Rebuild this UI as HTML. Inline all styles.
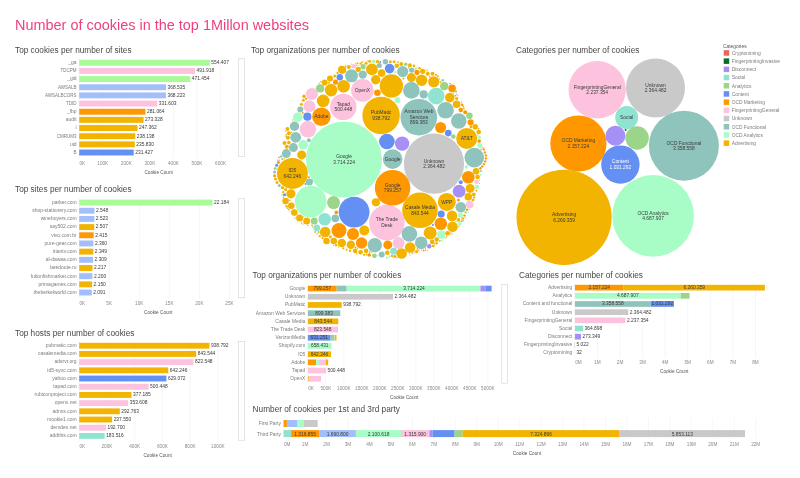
<!DOCTYPE html>
<html><head><meta charset="utf-8"><title>Number of cookies in the top 1Millon websites</title>
<style>html,body{margin:0;padding:0;background:#fff}svg{display:block}text{font-family:"Liberation Sans",sans-serif}</style></head>
<body><svg width="800" height="478" viewBox="0 0 800 478">
<rect width="800" height="478" fill="#fff"/>
<text transform="translate(15.00 29.80) scale(0.964 1)" font-size="15" fill="#ee3f80" text-anchor="start">Number of cookies in the top 1Millon websites</text>
<text transform="translate(15.00 52.90) scale(0.92 1)" font-size="9" fill="#484848" text-anchor="start">Top cookies per number of sites</text>
<line x1="79.2" y1="58" x2="79.2" y2="158" stroke="#f0f0f0" stroke-width="0.6"/>
<line x1="102.8" y1="58" x2="102.8" y2="158" stroke="#f0f0f0" stroke-width="0.6"/>
<line x1="126.3" y1="58" x2="126.3" y2="158" stroke="#f0f0f0" stroke-width="0.6"/>
<line x1="149.9" y1="58" x2="149.9" y2="158" stroke="#f0f0f0" stroke-width="0.6"/>
<line x1="173.4" y1="58" x2="173.4" y2="158" stroke="#f0f0f0" stroke-width="0.6"/>
<line x1="197.0" y1="58" x2="197.0" y2="158" stroke="#f0f0f0" stroke-width="0.6"/>
<line x1="220.6" y1="58" x2="220.6" y2="158" stroke="#f0f0f0" stroke-width="0.6"/>
<text transform="translate(76.60 64.10) scale(0.96 1)" font-size="5.2" fill="#7c7c7c" text-anchor="end">_ga</text>
<rect x="79.20" y="59.80" width="130.62" height="5.90" fill="#a8fb96"/>
<text transform="translate(211.32 64.10) scale(0.94 1)" font-size="5.2" fill="#3a3a3a" text-anchor="start">554.407</text>
<text transform="translate(76.60 72.26) scale(0.87 1)" font-size="5.2" fill="#7c7c7c" text-anchor="end">TDCPM</text>
<rect x="79.20" y="67.96" width="115.90" height="5.90" fill="#fcc2de"/>
<text transform="translate(196.60 72.26) scale(0.94 1)" font-size="5.2" fill="#3a3a3a" text-anchor="start">491.918</text>
<text transform="translate(76.60 80.42) scale(0.96 1)" font-size="5.2" fill="#7c7c7c" text-anchor="end">_gid</text>
<rect x="79.20" y="76.12" width="111.07" height="5.90" fill="#a8fb96"/>
<text transform="translate(191.77 80.42) scale(0.94 1)" font-size="5.2" fill="#3a3a3a" text-anchor="start">471.454</text>
<text transform="translate(76.60 88.58) scale(0.87 1)" font-size="5.2" fill="#7c7c7c" text-anchor="end">AWSALB</text>
<rect x="79.20" y="84.28" width="86.83" height="5.90" fill="#a2bffb"/>
<text transform="translate(167.53 88.58) scale(0.94 1)" font-size="5.2" fill="#3a3a3a" text-anchor="start">368.535</text>
<text transform="translate(76.60 96.74) scale(0.87 1)" font-size="5.2" fill="#7c7c7c" text-anchor="end">AWSALBCORS</text>
<rect x="79.20" y="92.44" width="86.75" height="5.90" fill="#a2bffb"/>
<text transform="translate(167.45 96.74) scale(0.94 1)" font-size="5.2" fill="#3a3a3a" text-anchor="start">368.223</text>
<text transform="translate(76.60 104.90) scale(0.87 1)" font-size="5.2" fill="#7c7c7c" text-anchor="end">TDID</text>
<rect x="79.20" y="100.60" width="78.13" height="5.90" fill="#fcc2de"/>
<text transform="translate(158.83 104.90) scale(0.94 1)" font-size="5.2" fill="#3a3a3a" text-anchor="start">331.603</text>
<text transform="translate(76.60 113.06) scale(0.96 1)" font-size="5.2" fill="#7c7c7c" text-anchor="end">_fbp</text>
<rect x="79.20" y="108.76" width="66.22" height="5.90" fill="#ff9800"/>
<text transform="translate(146.92 113.06) scale(0.94 1)" font-size="5.2" fill="#3a3a3a" text-anchor="start">281.064</text>
<text transform="translate(76.60 121.22) scale(0.96 1)" font-size="5.2" fill="#7c7c7c" text-anchor="end">audit</text>
<rect x="79.20" y="116.92" width="64.40" height="5.90" fill="#f2b400"/>
<text transform="translate(145.10 121.22) scale(0.94 1)" font-size="5.2" fill="#3a3a3a" text-anchor="start">273.328</text>
<text transform="translate(76.60 129.38) scale(0.96 1)" font-size="5.2" fill="#7c7c7c" text-anchor="end">i</text>
<rect x="79.20" y="125.08" width="58.28" height="5.90" fill="#f2b400"/>
<text transform="translate(138.98 129.38) scale(0.94 1)" font-size="5.2" fill="#3a3a3a" text-anchor="start">247.362</text>
<text transform="translate(76.60 137.54) scale(0.87 1)" font-size="5.2" fill="#7c7c7c" text-anchor="end">CMRUM3</text>
<rect x="79.20" y="133.24" width="56.11" height="5.90" fill="#f2b400"/>
<text transform="translate(136.81 137.54) scale(0.94 1)" font-size="5.2" fill="#3a3a3a" text-anchor="start">238.138</text>
<text transform="translate(76.60 145.70) scale(0.96 1)" font-size="5.2" fill="#7c7c7c" text-anchor="end">uid</text>
<rect x="79.20" y="141.40" width="55.56" height="5.90" fill="#f2b400"/>
<text transform="translate(136.26 145.70) scale(0.94 1)" font-size="5.2" fill="#3a3a3a" text-anchor="start">235.830</text>
<text transform="translate(76.60 153.86) scale(0.87 1)" font-size="5.2" fill="#7c7c7c" text-anchor="end">B</text>
<rect x="79.20" y="149.56" width="54.52" height="5.90" fill="#6390f2"/>
<text transform="translate(135.22 153.86) scale(0.94 1)" font-size="5.2" fill="#3a3a3a" text-anchor="start">231.427</text>
<text transform="translate(79.50 164.60) scale(0.94 1)" font-size="5.0" fill="#8a8a8a" text-anchor="start">0K</text>
<text transform="translate(102.76 164.60) scale(0.94 1)" font-size="5.0" fill="#8a8a8a" text-anchor="middle">100K</text>
<text transform="translate(126.32 164.60) scale(0.94 1)" font-size="5.0" fill="#8a8a8a" text-anchor="middle">200K</text>
<text transform="translate(149.88 164.60) scale(0.94 1)" font-size="5.0" fill="#8a8a8a" text-anchor="middle">300K</text>
<text transform="translate(173.44 164.60) scale(0.94 1)" font-size="5.0" fill="#8a8a8a" text-anchor="middle">400K</text>
<text transform="translate(197.00 164.60) scale(0.94 1)" font-size="5.0" fill="#8a8a8a" text-anchor="middle">500K</text>
<text transform="translate(220.56 164.60) scale(0.94 1)" font-size="5.0" fill="#8a8a8a" text-anchor="middle">600K</text>
<text transform="translate(158.60 173.60) scale(0.94 1)" font-size="5.0" fill="#555" text-anchor="middle">Cookie Count</text>
<rect x="238.3" y="58.8" width="6.4" height="97.8" fill="#fff" stroke="#d2d2d2" stroke-width="0.6"/>
<text transform="translate(15.00 192.30) scale(0.92 1)" font-size="9" fill="#484848" text-anchor="start">Top sites per number of cookies</text>
<line x1="79.2" y1="198" x2="79.2" y2="299" stroke="#f0f0f0" stroke-width="0.6"/>
<line x1="109.2" y1="198" x2="109.2" y2="299" stroke="#f0f0f0" stroke-width="0.6"/>
<line x1="139.3" y1="198" x2="139.3" y2="299" stroke="#f0f0f0" stroke-width="0.6"/>
<line x1="169.3" y1="198" x2="169.3" y2="299" stroke="#f0f0f0" stroke-width="0.6"/>
<line x1="199.4" y1="198" x2="199.4" y2="299" stroke="#f0f0f0" stroke-width="0.6"/>
<line x1="229.4" y1="198" x2="229.4" y2="299" stroke="#f0f0f0" stroke-width="0.6"/>
<text transform="translate(76.60 203.90) scale(0.96 1)" font-size="5.2" fill="#7c7c7c" text-anchor="end">parker.com</text>
<rect x="79.20" y="199.60" width="133.33" height="5.90" fill="#a8fb96"/>
<text transform="translate(214.03 203.90) scale(0.94 1)" font-size="5.2" fill="#3a3a3a" text-anchor="start">22.184</text>
<text transform="translate(76.60 212.08) scale(0.96 1)" font-size="5.2" fill="#7c7c7c" text-anchor="end">shop-stationery.com</text>
<rect x="79.20" y="207.78" width="15.31" height="5.90" fill="#a2bffb"/>
<text transform="translate(96.01 212.08) scale(0.94 1)" font-size="5.2" fill="#3a3a3a" text-anchor="start">2.548</text>
<text transform="translate(76.60 220.26) scale(0.96 1)" font-size="5.2" fill="#7c7c7c" text-anchor="end">winebuyers.com</text>
<rect x="79.20" y="215.96" width="15.16" height="5.90" fill="#a2bffb"/>
<text transform="translate(95.86 220.26) scale(0.94 1)" font-size="5.2" fill="#3a3a3a" text-anchor="start">2.523</text>
<text transform="translate(76.60 228.44) scale(0.96 1)" font-size="5.2" fill="#7c7c7c" text-anchor="end">say502.com</text>
<rect x="79.20" y="224.14" width="15.07" height="5.90" fill="#f2b400"/>
<text transform="translate(95.77 228.44) scale(0.94 1)" font-size="5.2" fill="#3a3a3a" text-anchor="start">2.507</text>
<text transform="translate(76.60 236.62) scale(0.96 1)" font-size="5.2" fill="#7c7c7c" text-anchor="end">vivo.com.br</text>
<rect x="79.20" y="232.32" width="14.51" height="5.90" fill="#ff9800"/>
<text transform="translate(95.21 236.62) scale(0.94 1)" font-size="5.2" fill="#3a3a3a" text-anchor="start">2.415</text>
<text transform="translate(76.60 244.80) scale(0.96 1)" font-size="5.2" fill="#7c7c7c" text-anchor="end">pure-gear.com</text>
<rect x="79.20" y="240.50" width="14.18" height="5.90" fill="#a2bffb"/>
<text transform="translate(94.88 244.80) scale(0.94 1)" font-size="5.2" fill="#3a3a3a" text-anchor="start">2.360</text>
<text transform="translate(76.60 252.98) scale(0.96 1)" font-size="5.2" fill="#7c7c7c" text-anchor="end">titantv.com</text>
<rect x="79.20" y="248.68" width="14.12" height="5.90" fill="#f2b400"/>
<text transform="translate(94.82 252.98) scale(0.94 1)" font-size="5.2" fill="#3a3a3a" text-anchor="start">2.349</text>
<text transform="translate(76.60 261.16) scale(0.96 1)" font-size="5.2" fill="#7c7c7c" text-anchor="end">al-dawaa.com</text>
<rect x="79.20" y="256.86" width="13.88" height="5.90" fill="#a2bffb"/>
<text transform="translate(94.58 261.16) scale(0.94 1)" font-size="5.2" fill="#3a3a3a" text-anchor="start">2.309</text>
<text transform="translate(76.60 269.34) scale(0.96 1)" font-size="5.2" fill="#7c7c7c" text-anchor="end">laredoute.ru</text>
<rect x="79.20" y="265.04" width="13.32" height="5.90" fill="#f2b400"/>
<text transform="translate(94.02 269.34) scale(0.94 1)" font-size="5.2" fill="#3a3a3a" text-anchor="start">2.217</text>
<text transform="translate(76.60 277.52) scale(0.96 1)" font-size="5.2" fill="#7c7c7c" text-anchor="end">fultonfishmarket.com</text>
<rect x="79.20" y="273.22" width="13.22" height="5.90" fill="#a2bffb"/>
<text transform="translate(93.92 277.52) scale(0.94 1)" font-size="5.2" fill="#3a3a3a" text-anchor="start">2.200</text>
<text transform="translate(76.60 285.70) scale(0.96 1)" font-size="5.2" fill="#7c7c7c" text-anchor="end">primagames.com</text>
<rect x="79.20" y="281.40" width="12.92" height="5.90" fill="#f2b400"/>
<text transform="translate(93.62 285.70) scale(0.94 1)" font-size="5.2" fill="#3a3a3a" text-anchor="start">2.150</text>
<text transform="translate(76.60 293.88) scale(0.96 1)" font-size="5.2" fill="#7c7c7c" text-anchor="end">theberkelworld.com</text>
<rect x="79.20" y="289.58" width="12.57" height="5.90" fill="#a2bffb"/>
<text transform="translate(93.27 293.88) scale(0.94 1)" font-size="5.2" fill="#3a3a3a" text-anchor="start">2.091</text>
<text transform="translate(79.50 304.60) scale(0.94 1)" font-size="5.0" fill="#8a8a8a" text-anchor="start">0K</text>
<text transform="translate(109.25 304.60) scale(0.94 1)" font-size="5.0" fill="#8a8a8a" text-anchor="middle">5K</text>
<text transform="translate(139.30 304.60) scale(0.94 1)" font-size="5.0" fill="#8a8a8a" text-anchor="middle">10K</text>
<text transform="translate(169.35 304.60) scale(0.94 1)" font-size="5.0" fill="#8a8a8a" text-anchor="middle">15K</text>
<text transform="translate(199.40 304.60) scale(0.94 1)" font-size="5.0" fill="#8a8a8a" text-anchor="middle">20K</text>
<text transform="translate(229.45 304.60) scale(0.94 1)" font-size="5.0" fill="#8a8a8a" text-anchor="middle">25K</text>
<text transform="translate(158.30 314.00) scale(0.94 1)" font-size="5.0" fill="#555" text-anchor="middle">Cookie Count</text>
<rect x="238.3" y="198.8" width="6.4" height="99" fill="#fff" stroke="#d2d2d2" stroke-width="0.6"/>
<text transform="translate(15.00 335.60) scale(0.92 1)" font-size="9" fill="#484848" text-anchor="start">Top hosts per number of cookies</text>
<line x1="79.2" y1="341" x2="79.2" y2="442" stroke="#f0f0f0" stroke-width="0.6"/>
<line x1="106.9" y1="341" x2="106.9" y2="442" stroke="#f0f0f0" stroke-width="0.6"/>
<line x1="134.7" y1="341" x2="134.7" y2="442" stroke="#f0f0f0" stroke-width="0.6"/>
<line x1="162.4" y1="341" x2="162.4" y2="442" stroke="#f0f0f0" stroke-width="0.6"/>
<line x1="190.2" y1="341" x2="190.2" y2="442" stroke="#f0f0f0" stroke-width="0.6"/>
<line x1="217.9" y1="341" x2="217.9" y2="442" stroke="#f0f0f0" stroke-width="0.6"/>
<text transform="translate(76.60 347.08) scale(0.96 1)" font-size="5.2" fill="#7c7c7c" text-anchor="end">pubmatic.com</text>
<rect x="79.20" y="342.80" width="130.21" height="5.85" fill="#f2b400"/>
<text transform="translate(210.91 347.08) scale(0.94 1)" font-size="5.2" fill="#3a3a3a" text-anchor="start">938.792</text>
<text transform="translate(76.60 355.28) scale(0.96 1)" font-size="5.2" fill="#7c7c7c" text-anchor="end">casalemedia.com</text>
<rect x="79.20" y="351.00" width="117.00" height="5.85" fill="#f2b400"/>
<text transform="translate(197.70 355.28) scale(0.94 1)" font-size="5.2" fill="#3a3a3a" text-anchor="start">843.544</text>
<text transform="translate(76.60 363.48) scale(0.96 1)" font-size="5.2" fill="#7c7c7c" text-anchor="end">adsrvr.org</text>
<rect x="79.20" y="359.20" width="114.23" height="5.85" fill="#fcc2de"/>
<text transform="translate(194.93 363.48) scale(0.94 1)" font-size="5.2" fill="#3a3a3a" text-anchor="start">823.548</text>
<text transform="translate(76.60 371.68) scale(0.96 1)" font-size="5.2" fill="#7c7c7c" text-anchor="end">id5-sync.com</text>
<rect x="79.20" y="367.40" width="89.08" height="5.85" fill="#f2b400"/>
<text transform="translate(169.78 371.68) scale(0.94 1)" font-size="5.2" fill="#3a3a3a" text-anchor="start">642.246</text>
<text transform="translate(76.60 379.88) scale(0.96 1)" font-size="5.2" fill="#7c7c7c" text-anchor="end">yahoo.com</text>
<rect x="79.20" y="375.60" width="87.25" height="5.85" fill="#6390f2"/>
<text transform="translate(167.95 379.88) scale(0.94 1)" font-size="5.2" fill="#3a3a3a" text-anchor="start">629.072</text>
<text transform="translate(76.60 388.08) scale(0.96 1)" font-size="5.2" fill="#7c7c7c" text-anchor="end">tapad.com</text>
<rect x="79.20" y="383.80" width="69.41" height="5.85" fill="#fcc2de"/>
<text transform="translate(150.11 388.08) scale(0.94 1)" font-size="5.2" fill="#3a3a3a" text-anchor="start">500.448</text>
<text transform="translate(76.60 396.28) scale(0.96 1)" font-size="5.2" fill="#7c7c7c" text-anchor="end">rubiconproject.com</text>
<rect x="79.20" y="392.00" width="52.32" height="5.85" fill="#f2b400"/>
<text transform="translate(133.02 396.28) scale(0.94 1)" font-size="5.2" fill="#3a3a3a" text-anchor="start">377.185</text>
<text transform="translate(76.60 404.48) scale(0.96 1)" font-size="5.2" fill="#7c7c7c" text-anchor="end">openx.net</text>
<rect x="79.20" y="400.20" width="49.05" height="5.85" fill="#fcc2de"/>
<text transform="translate(129.75 404.48) scale(0.94 1)" font-size="5.2" fill="#3a3a3a" text-anchor="start">353.608</text>
<text transform="translate(76.60 412.68) scale(0.96 1)" font-size="5.2" fill="#7c7c7c" text-anchor="end">adnxs.com</text>
<rect x="79.20" y="408.40" width="40.61" height="5.85" fill="#f2b400"/>
<text transform="translate(121.31 412.68) scale(0.94 1)" font-size="5.2" fill="#3a3a3a" text-anchor="start">292.763</text>
<text transform="translate(76.60 420.88) scale(0.96 1)" font-size="5.2" fill="#7c7c7c" text-anchor="end">mookie1.com</text>
<rect x="79.20" y="416.60" width="32.95" height="5.85" fill="#f2b400"/>
<text transform="translate(113.65 420.88) scale(0.94 1)" font-size="5.2" fill="#3a3a3a" text-anchor="start">237.550</text>
<text transform="translate(76.60 429.08) scale(0.96 1)" font-size="5.2" fill="#7c7c7c" text-anchor="end">demdex.net</text>
<rect x="79.20" y="424.80" width="26.73" height="5.85" fill="#fcc2de"/>
<text transform="translate(107.43 429.08) scale(0.94 1)" font-size="5.2" fill="#3a3a3a" text-anchor="start">192.700</text>
<text transform="translate(76.60 437.28) scale(0.96 1)" font-size="5.2" fill="#7c7c7c" text-anchor="end">addthis.com</text>
<rect x="79.20" y="433.00" width="25.45" height="5.85" fill="#8fe4d1"/>
<text transform="translate(106.15 437.28) scale(0.94 1)" font-size="5.2" fill="#3a3a3a" text-anchor="start">183.516</text>
<text transform="translate(79.50 447.60) scale(0.94 1)" font-size="5.0" fill="#8a8a8a" text-anchor="start">0K</text>
<text transform="translate(106.94 447.60) scale(0.94 1)" font-size="5.0" fill="#8a8a8a" text-anchor="middle">200K</text>
<text transform="translate(134.68 447.60) scale(0.94 1)" font-size="5.0" fill="#8a8a8a" text-anchor="middle">400K</text>
<text transform="translate(162.42 447.60) scale(0.94 1)" font-size="5.0" fill="#8a8a8a" text-anchor="middle">600K</text>
<text transform="translate(190.16 447.60) scale(0.94 1)" font-size="5.0" fill="#8a8a8a" text-anchor="middle">800K</text>
<text transform="translate(217.90 447.60) scale(0.94 1)" font-size="5.0" fill="#8a8a8a" text-anchor="middle">1000K</text>
<text transform="translate(157.60 457.00) scale(0.94 1)" font-size="5.0" fill="#555" text-anchor="middle">Cookie Count</text>
<rect x="238.3" y="341.4" width="6.4" height="98.8" fill="#fff" stroke="#d2d2d2" stroke-width="0.6"/>
<text transform="translate(252.60 278.40) scale(0.92 1)" font-size="9" fill="#484848" text-anchor="start">Top organizations per number of cookies</text>
<line x1="307.9" y1="284" x2="307.9" y2="384" stroke="#f0f0f0" stroke-width="0.6"/>
<line x1="325.9" y1="284" x2="325.9" y2="384" stroke="#f0f0f0" stroke-width="0.6"/>
<line x1="343.9" y1="284" x2="343.9" y2="384" stroke="#f0f0f0" stroke-width="0.6"/>
<line x1="361.9" y1="284" x2="361.9" y2="384" stroke="#f0f0f0" stroke-width="0.6"/>
<line x1="379.9" y1="284" x2="379.9" y2="384" stroke="#f0f0f0" stroke-width="0.6"/>
<line x1="397.9" y1="284" x2="397.9" y2="384" stroke="#f0f0f0" stroke-width="0.6"/>
<line x1="415.9" y1="284" x2="415.9" y2="384" stroke="#f0f0f0" stroke-width="0.6"/>
<line x1="433.9" y1="284" x2="433.9" y2="384" stroke="#f0f0f0" stroke-width="0.6"/>
<line x1="451.9" y1="284" x2="451.9" y2="384" stroke="#f0f0f0" stroke-width="0.6"/>
<line x1="469.9" y1="284" x2="469.9" y2="384" stroke="#f0f0f0" stroke-width="0.6"/>
<line x1="487.9" y1="284" x2="487.9" y2="384" stroke="#f0f0f0" stroke-width="0.6"/>
<text transform="translate(305.30 289.90) scale(0.945 1)" font-size="5.2" fill="#7c7c7c" text-anchor="end">Google</text>
<rect x="307.90" y="285.70" width="28.77" height="5.70" fill="#ff9800"/>
<rect x="336.67" y="285.70" width="10.04" height="5.70" fill="#8fc4bd"/>
<rect x="346.72" y="285.70" width="133.71" height="5.70" fill="#a7fdc5"/>
<rect x="480.43" y="285.70" width="5.40" height="5.70" fill="#a78ff8"/>
<rect x="485.83" y="285.70" width="5.76" height="5.70" fill="#6390f2"/>
<text transform="translate(322.29 289.90) scale(0.94 1)" font-size="5.2" fill="#3a3a3a" text-anchor="middle">799.257</text>
<text transform="translate(413.97 289.90) scale(0.94 1)" font-size="5.2" fill="#3a3a3a" text-anchor="middle">3.714.224</text>
<text transform="translate(305.30 298.10) scale(0.9471428571428571 1)" font-size="5.2" fill="#7c7c7c" text-anchor="end">Unknown</text>
<rect x="307.90" y="293.90" width="85.12" height="5.70" fill="#c9c9c9"/>
<text transform="translate(394.52 298.10) scale(0.94 1)" font-size="5.2" fill="#3a3a3a" text-anchor="start">2.364.482</text>
<text transform="translate(305.30 306.30) scale(0.9375 1)" font-size="5.2" fill="#7c7c7c" text-anchor="end">PubMatic</text>
<rect x="307.90" y="302.10" width="33.80" height="5.70" fill="#f2b400"/>
<text transform="translate(343.20 306.30) scale(0.94 1)" font-size="5.2" fill="#3a3a3a" text-anchor="start">938.792</text>
<text transform="translate(305.30 314.50) scale(0.9441176470588235 1)" font-size="5.2" fill="#7c7c7c" text-anchor="end">Amazon Web Services</text>
<rect x="307.90" y="310.30" width="32.38" height="5.70" fill="#8fc4bd"/>
<text transform="translate(324.09 314.50) scale(0.94 1)" font-size="5.2" fill="#3a3a3a" text-anchor="middle">899.383</text>
<text transform="translate(305.30 322.70) scale(0.9436363636363636 1)" font-size="5.2" fill="#7c7c7c" text-anchor="end">Casale Media</text>
<rect x="307.90" y="318.50" width="30.37" height="5.70" fill="#f2b400"/>
<text transform="translate(323.08 322.70) scale(0.94 1)" font-size="5.2" fill="#3a3a3a" text-anchor="middle">843.544</text>
<text transform="translate(305.30 330.90) scale(0.9375 1)" font-size="5.2" fill="#7c7c7c" text-anchor="end">The Trade Desk</text>
<rect x="307.90" y="326.70" width="29.65" height="5.70" fill="#fcc2de"/>
<rect x="337.55" y="326.70" width="0.43" height="5.70" fill="#f2b400"/>
<text transform="translate(322.72 330.90) scale(0.94 1)" font-size="5.2" fill="#3a3a3a" text-anchor="middle">823.548</text>
<text transform="translate(305.30 339.10) scale(0.945 1)" font-size="5.2" fill="#7c7c7c" text-anchor="end">VerizonMedia</text>
<rect x="307.90" y="334.90" width="22.73" height="5.70" fill="#6390f2"/>
<rect x="330.63" y="334.90" width="4.00" height="5.70" fill="#9bd58a"/>
<rect x="334.62" y="334.90" width="0.43" height="5.70" fill="#fcc2de"/>
<rect x="335.05" y="334.90" width="1.44" height="5.70" fill="#f2b400"/>
<text transform="translate(319.26 339.10) scale(0.94 1)" font-size="5.2" fill="#3a3a3a" text-anchor="middle">631.251</text>
<text transform="translate(305.30 347.30) scale(0.951 1)" font-size="5.2" fill="#7c7c7c" text-anchor="end">Shopify.com</text>
<rect x="307.90" y="343.10" width="23.70" height="5.70" fill="#a7fdc5"/>
<text transform="translate(319.75 347.30) scale(0.94 1)" font-size="5.2" fill="#3a3a3a" text-anchor="middle">658.431</text>
<text transform="translate(305.30 355.50) scale(0.87 1)" font-size="5.2" fill="#7c7c7c" text-anchor="end">ID5</text>
<rect x="307.90" y="351.30" width="23.12" height="5.70" fill="#f2b400"/>
<text transform="translate(319.46 355.50) scale(0.94 1)" font-size="5.2" fill="#3a3a3a" text-anchor="middle">642.246</text>
<text transform="translate(305.30 363.70) scale(0.942 1)" font-size="5.2" fill="#7c7c7c" text-anchor="end">Adobe</text>
<rect x="307.90" y="359.50" width="8.17" height="5.70" fill="#ff9800"/>
<rect x="316.07" y="359.50" width="2.77" height="5.70" fill="#a7fdc5"/>
<rect x="318.84" y="359.50" width="7.16" height="5.70" fill="#fcc2de"/>
<rect x="326.01" y="359.50" width="2.12" height="5.70" fill="#f2b400"/>
<text transform="translate(305.30 371.90) scale(0.942 1)" font-size="5.2" fill="#7c7c7c" text-anchor="end">Tapad</text>
<rect x="307.90" y="367.70" width="18.02" height="5.70" fill="#fcc2de"/>
<text transform="translate(327.42 371.90) scale(0.94 1)" font-size="5.2" fill="#3a3a3a" text-anchor="start">500.448</text>
<text transform="translate(305.30 380.10) scale(0.9239999999999999 1)" font-size="5.2" fill="#7c7c7c" text-anchor="end">OpenX</text>
<rect x="307.90" y="375.90" width="0.90" height="5.70" fill="#f2b400"/>
<rect x="308.80" y="375.90" width="12.31" height="5.70" fill="#fcc2de"/>
<text transform="translate(308.20 389.90) scale(0.94 1)" font-size="5.0" fill="#8a8a8a" text-anchor="start">0K</text>
<text transform="translate(325.90 389.90) scale(0.94 1)" font-size="5.0" fill="#8a8a8a" text-anchor="middle">500K</text>
<text transform="translate(343.90 389.90) scale(0.94 1)" font-size="5.0" fill="#8a8a8a" text-anchor="middle">1000K</text>
<text transform="translate(361.90 389.90) scale(0.94 1)" font-size="5.0" fill="#8a8a8a" text-anchor="middle">1500K</text>
<text transform="translate(379.90 389.90) scale(0.94 1)" font-size="5.0" fill="#8a8a8a" text-anchor="middle">2000K</text>
<text transform="translate(397.90 389.90) scale(0.94 1)" font-size="5.0" fill="#8a8a8a" text-anchor="middle">2500K</text>
<text transform="translate(415.90 389.90) scale(0.94 1)" font-size="5.0" fill="#8a8a8a" text-anchor="middle">3000K</text>
<text transform="translate(433.90 389.90) scale(0.94 1)" font-size="5.0" fill="#8a8a8a" text-anchor="middle">3500K</text>
<text transform="translate(451.90 389.90) scale(0.94 1)" font-size="5.0" fill="#8a8a8a" text-anchor="middle">4000K</text>
<text transform="translate(469.90 389.90) scale(0.94 1)" font-size="5.0" fill="#8a8a8a" text-anchor="middle">4500K</text>
<text transform="translate(487.90 389.90) scale(0.94 1)" font-size="5.0" fill="#8a8a8a" text-anchor="middle">5000K</text>
<text transform="translate(404.20 398.70) scale(0.94 1)" font-size="5.0" fill="#555" text-anchor="middle">Cookie Count</text>
<rect x="501.8" y="284.5" width="5.6" height="98.7" fill="#fff" stroke="#d2d2d2" stroke-width="0.6"/>
<text transform="translate(519.00 278.00) scale(0.92 1)" font-size="9" fill="#484848" text-anchor="start">Categories per number of cookies</text>
<line x1="574.9" y1="284" x2="574.9" y2="358" stroke="#f0f0f0" stroke-width="0.6"/>
<line x1="597.5" y1="284" x2="597.5" y2="358" stroke="#f0f0f0" stroke-width="0.6"/>
<line x1="620.0" y1="284" x2="620.0" y2="358" stroke="#f0f0f0" stroke-width="0.6"/>
<line x1="642.6" y1="284" x2="642.6" y2="358" stroke="#f0f0f0" stroke-width="0.6"/>
<line x1="665.2" y1="284" x2="665.2" y2="358" stroke="#f0f0f0" stroke-width="0.6"/>
<line x1="687.8" y1="284" x2="687.8" y2="358" stroke="#f0f0f0" stroke-width="0.6"/>
<line x1="710.3" y1="284" x2="710.3" y2="358" stroke="#f0f0f0" stroke-width="0.6"/>
<line x1="732.9" y1="284" x2="732.9" y2="358" stroke="#f0f0f0" stroke-width="0.6"/>
<line x1="755.5" y1="284" x2="755.5" y2="358" stroke="#f0f0f0" stroke-width="0.6"/>
<text transform="translate(572.30 289.00) scale(0.9518181818181818 1)" font-size="5.2" fill="#7c7c7c" text-anchor="end">Advertising</text>
<rect x="574.90" y="284.80" width="48.69" height="5.70" fill="#ff9800"/>
<rect x="623.59" y="284.80" width="141.30" height="5.70" fill="#f2b400"/>
<text transform="translate(599.24 289.00) scale(0.94 1)" font-size="5.2" fill="#3a3a3a" text-anchor="middle">2.157.224</text>
<text transform="translate(694.24 289.00) scale(0.94 1)" font-size="5.2" fill="#3a3a3a" text-anchor="middle">6.260.359</text>
<text transform="translate(572.30 297.17) scale(0.95 1)" font-size="5.2" fill="#7c7c7c" text-anchor="end">Analytics</text>
<rect x="574.90" y="292.97" width="105.81" height="5.70" fill="#a7fdc5"/>
<rect x="680.71" y="292.97" width="8.80" height="5.70" fill="#9bd58a"/>
<text transform="translate(627.80 297.17) scale(0.94 1)" font-size="5.2" fill="#3a3a3a" text-anchor="middle">4.687.907</text>
<text transform="translate(572.30 305.34) scale(0.9555 1)" font-size="5.2" fill="#7c7c7c" text-anchor="end">Content and functional</text>
<rect x="574.90" y="301.14" width="75.80" height="5.70" fill="#8fc4bd"/>
<rect x="650.70" y="301.14" width="23.28" height="5.70" fill="#6390f2"/>
<text transform="translate(612.80 305.34) scale(0.94 1)" font-size="5.2" fill="#3a3a3a" text-anchor="middle">3.358.558</text>
<text transform="translate(662.34 305.34) scale(0.94 1)" font-size="5.2" fill="#3a3a3a" text-anchor="middle">1.031.292</text>
<text transform="translate(572.30 313.51) scale(0.9471428571428571 1)" font-size="5.2" fill="#7c7c7c" text-anchor="end">Unknown</text>
<rect x="574.90" y="309.31" width="53.37" height="5.70" fill="#c9c9c9"/>
<text transform="translate(629.77 313.51) scale(0.94 1)" font-size="5.2" fill="#3a3a3a" text-anchor="start">2.364.482</text>
<text transform="translate(572.30 321.68) scale(0.9514285714285714 1)" font-size="5.2" fill="#7c7c7c" text-anchor="end">FingerprintingGeneral</text>
<rect x="574.90" y="317.48" width="50.50" height="5.70" fill="#fcc2de"/>
<text transform="translate(626.90 321.68) scale(0.94 1)" font-size="5.2" fill="#3a3a3a" text-anchor="start">2.237.354</text>
<text transform="translate(572.30 329.85) scale(0.945 1)" font-size="5.2" fill="#7c7c7c" text-anchor="end">Social</text>
<rect x="574.90" y="325.65" width="8.24" height="5.70" fill="#8fe4d1"/>
<text transform="translate(584.64 329.85) scale(0.94 1)" font-size="5.2" fill="#3a3a3a" text-anchor="start">364.898</text>
<text transform="translate(572.30 338.02) scale(0.951 1)" font-size="5.2" fill="#7c7c7c" text-anchor="end">Disconnect</text>
<rect x="574.90" y="333.82" width="6.17" height="5.70" fill="#a78ff8"/>
<text transform="translate(582.57 338.02) scale(0.94 1)" font-size="5.2" fill="#3a3a3a" text-anchor="start">273.349</text>
<text transform="translate(572.30 346.19) scale(0.9518181818181818 1)" font-size="5.2" fill="#7c7c7c" text-anchor="end">FingerprintingInvasive</text>
<rect x="574.90" y="341.99" width="0.11" height="5.70" fill="#0b6b2c"/>
<text transform="translate(576.51 346.19) scale(0.94 1)" font-size="5.2" fill="#3a3a3a" text-anchor="start">5.022</text>
<text transform="translate(572.30 354.36) scale(0.9525 1)" font-size="5.2" fill="#7c7c7c" text-anchor="end">Cryptomining</text>
<rect x="574.90" y="350.16" width="0.00" height="5.70" fill="#ea645a"/>
<text transform="translate(576.40 354.36) scale(0.94 1)" font-size="5.2" fill="#3a3a3a" text-anchor="start">32</text>
<text transform="translate(575.20 364.40) scale(0.94 1)" font-size="5.0" fill="#8a8a8a" text-anchor="start">0M</text>
<text transform="translate(597.47 364.40) scale(0.94 1)" font-size="5.0" fill="#8a8a8a" text-anchor="middle">1M</text>
<text transform="translate(620.04 364.40) scale(0.94 1)" font-size="5.0" fill="#8a8a8a" text-anchor="middle">2M</text>
<text transform="translate(642.61 364.40) scale(0.94 1)" font-size="5.0" fill="#8a8a8a" text-anchor="middle">3M</text>
<text transform="translate(665.18 364.40) scale(0.94 1)" font-size="5.0" fill="#8a8a8a" text-anchor="middle">4M</text>
<text transform="translate(687.75 364.40) scale(0.94 1)" font-size="5.0" fill="#8a8a8a" text-anchor="middle">5M</text>
<text transform="translate(710.32 364.40) scale(0.94 1)" font-size="5.0" fill="#8a8a8a" text-anchor="middle">6M</text>
<text transform="translate(732.89 364.40) scale(0.94 1)" font-size="5.0" fill="#8a8a8a" text-anchor="middle">7M</text>
<text transform="translate(755.46 364.40) scale(0.94 1)" font-size="5.0" fill="#8a8a8a" text-anchor="middle">8M</text>
<text transform="translate(674.20 373.40) scale(0.94 1)" font-size="5.0" fill="#555" text-anchor="middle">Cookie Count</text>
<text transform="translate(252.60 412.30) scale(0.92 1)" font-size="9" fill="#484848" text-anchor="start">Number of cookies per 1st and 3rd party</text>
<line x1="283.6" y1="418" x2="283.6" y2="439" stroke="#f0f0f0" stroke-width="0.6"/>
<text transform="translate(283.90 445.90) scale(0.94 1)" font-size="5.0" fill="#8a8a8a" text-anchor="start">0M</text>
<line x1="305.1" y1="418" x2="305.1" y2="439" stroke="#f0f0f0" stroke-width="0.6"/>
<text transform="translate(305.06 445.90) scale(0.94 1)" font-size="5.0" fill="#8a8a8a" text-anchor="middle">1M</text>
<line x1="326.5" y1="418" x2="326.5" y2="439" stroke="#f0f0f0" stroke-width="0.6"/>
<text transform="translate(326.52 445.90) scale(0.94 1)" font-size="5.0" fill="#8a8a8a" text-anchor="middle">2M</text>
<line x1="348.0" y1="418" x2="348.0" y2="439" stroke="#f0f0f0" stroke-width="0.6"/>
<text transform="translate(347.98 445.90) scale(0.94 1)" font-size="5.0" fill="#8a8a8a" text-anchor="middle">3M</text>
<line x1="369.4" y1="418" x2="369.4" y2="439" stroke="#f0f0f0" stroke-width="0.6"/>
<text transform="translate(369.44 445.90) scale(0.94 1)" font-size="5.0" fill="#8a8a8a" text-anchor="middle">4M</text>
<line x1="390.9" y1="418" x2="390.9" y2="439" stroke="#f0f0f0" stroke-width="0.6"/>
<text transform="translate(390.90 445.90) scale(0.94 1)" font-size="5.0" fill="#8a8a8a" text-anchor="middle">5M</text>
<line x1="412.4" y1="418" x2="412.4" y2="439" stroke="#f0f0f0" stroke-width="0.6"/>
<text transform="translate(412.36 445.90) scale(0.94 1)" font-size="5.0" fill="#8a8a8a" text-anchor="middle">6M</text>
<line x1="433.8" y1="418" x2="433.8" y2="439" stroke="#f0f0f0" stroke-width="0.6"/>
<text transform="translate(433.82 445.90) scale(0.94 1)" font-size="5.0" fill="#8a8a8a" text-anchor="middle">7M</text>
<line x1="455.3" y1="418" x2="455.3" y2="439" stroke="#f0f0f0" stroke-width="0.6"/>
<text transform="translate(455.28 445.90) scale(0.94 1)" font-size="5.0" fill="#8a8a8a" text-anchor="middle">8M</text>
<line x1="476.7" y1="418" x2="476.7" y2="439" stroke="#f0f0f0" stroke-width="0.6"/>
<text transform="translate(476.74 445.90) scale(0.94 1)" font-size="5.0" fill="#8a8a8a" text-anchor="middle">9M</text>
<line x1="498.2" y1="418" x2="498.2" y2="439" stroke="#f0f0f0" stroke-width="0.6"/>
<text transform="translate(498.20 445.90) scale(0.94 1)" font-size="5.0" fill="#8a8a8a" text-anchor="middle">10M</text>
<line x1="519.7" y1="418" x2="519.7" y2="439" stroke="#f0f0f0" stroke-width="0.6"/>
<text transform="translate(519.66 445.90) scale(0.94 1)" font-size="5.0" fill="#8a8a8a" text-anchor="middle">11M</text>
<line x1="541.1" y1="418" x2="541.1" y2="439" stroke="#f0f0f0" stroke-width="0.6"/>
<text transform="translate(541.12 445.90) scale(0.94 1)" font-size="5.0" fill="#8a8a8a" text-anchor="middle">12M</text>
<line x1="562.6" y1="418" x2="562.6" y2="439" stroke="#f0f0f0" stroke-width="0.6"/>
<text transform="translate(562.58 445.90) scale(0.94 1)" font-size="5.0" fill="#8a8a8a" text-anchor="middle">13M</text>
<line x1="584.0" y1="418" x2="584.0" y2="439" stroke="#f0f0f0" stroke-width="0.6"/>
<text transform="translate(584.04 445.90) scale(0.94 1)" font-size="5.0" fill="#8a8a8a" text-anchor="middle">14M</text>
<line x1="605.5" y1="418" x2="605.5" y2="439" stroke="#f0f0f0" stroke-width="0.6"/>
<text transform="translate(605.50 445.90) scale(0.94 1)" font-size="5.0" fill="#8a8a8a" text-anchor="middle">15M</text>
<line x1="627.0" y1="418" x2="627.0" y2="439" stroke="#f0f0f0" stroke-width="0.6"/>
<text transform="translate(626.96 445.90) scale(0.94 1)" font-size="5.0" fill="#8a8a8a" text-anchor="middle">16M</text>
<line x1="648.4" y1="418" x2="648.4" y2="439" stroke="#f0f0f0" stroke-width="0.6"/>
<text transform="translate(648.42 445.90) scale(0.94 1)" font-size="5.0" fill="#8a8a8a" text-anchor="middle">17M</text>
<line x1="669.9" y1="418" x2="669.9" y2="439" stroke="#f0f0f0" stroke-width="0.6"/>
<text transform="translate(669.88 445.90) scale(0.94 1)" font-size="5.0" fill="#8a8a8a" text-anchor="middle">18M</text>
<line x1="691.3" y1="418" x2="691.3" y2="439" stroke="#f0f0f0" stroke-width="0.6"/>
<text transform="translate(691.34 445.90) scale(0.94 1)" font-size="5.0" fill="#8a8a8a" text-anchor="middle">19M</text>
<line x1="712.8" y1="418" x2="712.8" y2="439" stroke="#f0f0f0" stroke-width="0.6"/>
<text transform="translate(712.80 445.90) scale(0.94 1)" font-size="5.0" fill="#8a8a8a" text-anchor="middle">20M</text>
<line x1="734.3" y1="418" x2="734.3" y2="439" stroke="#f0f0f0" stroke-width="0.6"/>
<text transform="translate(734.26 445.90) scale(0.94 1)" font-size="5.0" fill="#8a8a8a" text-anchor="middle">21M</text>
<line x1="755.7" y1="418" x2="755.7" y2="439" stroke="#f0f0f0" stroke-width="0.6"/>
<text transform="translate(755.72 445.90) scale(0.94 1)" font-size="5.0" fill="#8a8a8a" text-anchor="middle">22M</text>
<text transform="translate(527.00 454.90) scale(0.94 1)" font-size="5.0" fill="#555" text-anchor="middle">Cookie Count</text>
<text transform="translate(281.00 425.40) scale(0.942 1)" font-size="5.2" fill="#7c7c7c" text-anchor="end">First Party</text>
<text transform="translate(281.00 435.50) scale(0.942 1)" font-size="5.2" fill="#7c7c7c" text-anchor="end">Third Party</text>
<rect x="283.60" y="420.00" width="3.30" height="7.00" fill="#ff9800"/>
<rect x="286.90" y="420.00" width="10.10" height="7.00" fill="#a2bffb"/>
<rect x="297.00" y="420.00" width="7.00" height="7.00" fill="#a7fdc5"/>
<rect x="304.00" y="420.00" width="13.70" height="7.00" fill="#c9c9c9"/>
<rect x="283.60" y="430.10" width="7.50" height="7.00" fill="#8fe4d1"/>
<rect x="291.10" y="430.10" width="28.00" height="7.00" fill="#ff9800"/>
<rect x="319.10" y="430.10" width="36.80" height="7.00" fill="#a2bffb"/>
<rect x="355.90" y="430.10" width="45.10" height="7.00" fill="#a7fdc5"/>
<rect x="401.00" y="430.10" width="28.40" height="7.00" fill="#fcc2de"/>
<rect x="429.40" y="430.10" width="3.10" height="7.00" fill="#a78ff8"/>
<rect x="432.50" y="430.10" width="22.10" height="7.00" fill="#6390f2"/>
<rect x="454.60" y="430.10" width="8.00" height="7.00" fill="#9bd58a"/>
<rect x="462.60" y="430.10" width="157.00" height="7.00" fill="#f2b400"/>
<rect x="619.60" y="430.10" width="125.40" height="7.00" fill="#c9c9c9"/>
<text transform="translate(305.10 435.50) scale(0.94 1)" font-size="5.2" fill="#3a3a3a" text-anchor="middle">1.316.855</text>
<text transform="translate(337.50 435.50) scale(0.94 1)" font-size="5.2" fill="#3a3a3a" text-anchor="middle">1.690.800</text>
<text transform="translate(378.50 435.50) scale(0.94 1)" font-size="5.2" fill="#3a3a3a" text-anchor="middle">2.100.618</text>
<text transform="translate(415.20 435.50) scale(0.94 1)" font-size="5.2" fill="#3a3a3a" text-anchor="middle">1.315.900</text>
<text transform="translate(541.00 435.50) scale(0.94 1)" font-size="5.2" fill="#3a3a3a" text-anchor="middle">7.324.896</text>
<text transform="translate(682.30 435.50) scale(0.94 1)" font-size="5.2" fill="#3a3a3a" text-anchor="middle">5.853.113</text>
<text transform="translate(516.10 52.90) scale(0.913 1)" font-size="9" fill="#484848" text-anchor="start">Categories per number of cookies</text>
<circle cx="597.2" cy="89.8" r="28.7" fill="#fcc2de"/>
<text transform="translate(597.20 88.67) scale(0.94 1)" font-size="5.2" fill="#3a3a3a" text-anchor="middle">FingerprintingGeneral</text>
<text transform="translate(597.20 94.12) scale(0.94 1)" font-size="5.2" fill="#3a3a3a" text-anchor="middle">2.237.354</text>
<circle cx="655.5" cy="87.9" r="29.5" fill="#c9c9c9"/>
<text transform="translate(655.50 86.78) scale(0.94 1)" font-size="5.2" fill="#3a3a3a" text-anchor="middle">Unknown</text>
<text transform="translate(655.50 92.22) scale(0.94 1)" font-size="5.2" fill="#3a3a3a" text-anchor="middle">2.364.482</text>
<circle cx="626.7" cy="117.5" r="11.5" fill="#8fe4d1"/>
<text transform="translate(626.70 119.10) scale(0.94 1)" font-size="5.2" fill="#3a3a3a" text-anchor="middle">Social</text>
<circle cx="578.4" cy="143.5" r="28.1" fill="#ff9800"/>
<text transform="translate(578.40 142.38) scale(0.94 1)" font-size="5.2" fill="#3a3a3a" text-anchor="middle">OCD Marketing</text>
<text transform="translate(578.40 147.82) scale(0.94 1)" font-size="5.2" fill="#3a3a3a" text-anchor="middle">2.157.224</text>
<circle cx="615.4" cy="135.8" r="10.0" fill="#a78ff8"/>
<circle cx="637.1" cy="138.0" r="11.7" fill="#9bd58a"/>
<circle cx="683.9" cy="145.7" r="35.0" fill="#8fc4bd"/>
<text transform="translate(683.90 144.57) scale(0.94 1)" font-size="5.2" fill="#3a3a3a" text-anchor="middle">OCD Functional</text>
<text transform="translate(683.90 150.02) scale(0.94 1)" font-size="5.2" fill="#3a3a3a" text-anchor="middle">3.358.558</text>
<circle cx="620.4" cy="164.6" r="19.2" fill="#6390f2"/>
<text transform="translate(620.40 163.47) scale(0.94 1)" font-size="5.2" fill="#fff" text-anchor="middle">Content</text>
<text transform="translate(620.40 168.92) scale(0.94 1)" font-size="5.2" fill="#fff" text-anchor="middle">1.031.292</text>
<circle cx="564.1" cy="217.3" r="47.6" fill="#f2b400"/>
<text transform="translate(564.10 216.18) scale(0.94 1)" font-size="5.2" fill="#3a3a3a" text-anchor="middle">Advertising</text>
<text transform="translate(564.10 221.62) scale(0.94 1)" font-size="5.2" fill="#3a3a3a" text-anchor="middle">6.260.359</text>
<circle cx="653.1" cy="215.9" r="40.8" fill="#a7fdc5"/>
<text transform="translate(653.10 214.78) scale(0.94 1)" font-size="5.2" fill="#3a3a3a" text-anchor="middle">OCD Analytics</text>
<text transform="translate(653.10 220.22) scale(0.94 1)" font-size="5.2" fill="#3a3a3a" text-anchor="middle">4.687.907</text>
<circle cx="625.6" cy="130.0" r="1.0" fill="#0b6b2c"/>
<text transform="translate(723.00 47.60) scale(0.94 1)" font-size="5.2" fill="#555" text-anchor="start">Categories</text>
<rect x="723.70" y="50.20" width="5.50" height="5.50" fill="#ea645a"/>
<text transform="translate(731.70 54.80) scale(0.9525 1)" font-size="5.2" fill="#7c7c7c" text-anchor="start">Cryptomining</text>
<rect x="723.70" y="58.40" width="5.50" height="5.50" fill="#0b6b2c"/>
<text transform="translate(731.70 63.00) scale(0.9518181818181818 1)" font-size="5.2" fill="#7c7c7c" text-anchor="start">FingerprintingInvasive</text>
<rect x="723.70" y="66.60" width="5.50" height="5.50" fill="#a78ff8"/>
<text transform="translate(731.70 71.20) scale(0.951 1)" font-size="5.2" fill="#7c7c7c" text-anchor="start">Disconnect</text>
<rect x="723.70" y="74.80" width="5.50" height="5.50" fill="#8fe4d1"/>
<text transform="translate(731.70 79.40) scale(0.945 1)" font-size="5.2" fill="#7c7c7c" text-anchor="start">Social</text>
<rect x="723.70" y="83.00" width="5.50" height="5.50" fill="#9bd58a"/>
<text transform="translate(731.70 87.60) scale(0.95 1)" font-size="5.2" fill="#7c7c7c" text-anchor="start">Analytics</text>
<rect x="723.70" y="91.20" width="5.50" height="5.50" fill="#6390f2"/>
<text transform="translate(731.70 95.80) scale(0.9471428571428571 1)" font-size="5.2" fill="#7c7c7c" text-anchor="start">Content</text>
<rect x="723.70" y="99.40" width="5.50" height="5.50" fill="#ff9800"/>
<text transform="translate(731.70 104.00) scale(0.9299999999999999 1)" font-size="5.2" fill="#7c7c7c" text-anchor="start">OCD Marketing</text>
<rect x="723.70" y="107.60" width="5.50" height="5.50" fill="#fcc2de"/>
<text transform="translate(731.70 112.20) scale(0.9514285714285714 1)" font-size="5.2" fill="#7c7c7c" text-anchor="start">FingerprintingGeneral</text>
<rect x="723.70" y="115.80" width="5.50" height="5.50" fill="#c9c9c9"/>
<text transform="translate(731.70 120.40) scale(0.9471428571428571 1)" font-size="5.2" fill="#7c7c7c" text-anchor="start">Unknown</text>
<rect x="723.70" y="124.00" width="5.50" height="5.50" fill="#8fc4bd"/>
<text transform="translate(731.70 128.60) scale(0.9323076923076923 1)" font-size="5.2" fill="#7c7c7c" text-anchor="start">OCD Functional</text>
<rect x="723.70" y="132.20" width="5.50" height="5.50" fill="#a7fdc5"/>
<text transform="translate(731.70 136.80) scale(0.9299999999999999 1)" font-size="5.2" fill="#7c7c7c" text-anchor="start">OCD Analytics</text>
<rect x="723.70" y="140.40" width="5.50" height="5.50" fill="#f2b400"/>
<text transform="translate(731.70 145.00) scale(0.9518181818181818 1)" font-size="5.2" fill="#7c7c7c" text-anchor="start">Advertising</text>
<text transform="translate(250.90 52.90) scale(0.92 1)" font-size="9" fill="#484848" text-anchor="start">Top organizations per number of cookies</text>
<circle cx="344.0" cy="159.5" r="38.0" fill="#a7fdc5"/>
<text transform="translate(344.00 158.38) scale(0.94 1)" font-size="5.2" fill="#3a3a3a" text-anchor="middle">Google</text>
<text transform="translate(344.00 163.82) scale(0.94 1)" font-size="5.2" fill="#3a3a3a" text-anchor="middle">3.714.224</text>
<circle cx="434.0" cy="163.7" r="30.1" fill="#c9c9c9"/>
<text transform="translate(434.00 162.57) scale(0.94 1)" font-size="5.2" fill="#3a3a3a" text-anchor="middle">Unknown</text>
<text transform="translate(434.00 168.02) scale(0.94 1)" font-size="5.2" fill="#3a3a3a" text-anchor="middle">2.364.482</text>
<circle cx="381.1" cy="115.5" r="18.7" fill="#f2b400"/>
<text transform="translate(381.10 114.38) scale(0.94 1)" font-size="5.2" fill="#3a3a3a" text-anchor="middle">PubMatic</text>
<text transform="translate(381.10 119.82) scale(0.94 1)" font-size="5.2" fill="#3a3a3a" text-anchor="middle">938.792</text>
<circle cx="418.8" cy="117.2" r="18.3" fill="#8fc4bd"/>
<text transform="translate(418.80 113.35) scale(0.94 1)" font-size="5.2" fill="#3a3a3a" text-anchor="middle">Amazon Web</text>
<text transform="translate(418.80 118.80) scale(0.94 1)" font-size="5.2" fill="#3a3a3a" text-anchor="middle">Services</text>
<text transform="translate(418.80 124.25) scale(0.94 1)" font-size="5.2" fill="#3a3a3a" text-anchor="middle">899.383</text>
<circle cx="420.0" cy="210.3" r="17.8" fill="#f2b400"/>
<text transform="translate(420.00 209.18) scale(0.94 1)" font-size="5.2" fill="#3a3a3a" text-anchor="middle">Casale Media</text>
<text transform="translate(420.00 214.62) scale(0.94 1)" font-size="5.2" fill="#3a3a3a" text-anchor="middle">843.544</text>
<circle cx="386.9" cy="222.6" r="17.8" fill="#fcc2de"/>
<text transform="translate(386.90 221.47) scale(0.94 1)" font-size="5.2" fill="#3a3a3a" text-anchor="middle">The Trade</text>
<text transform="translate(386.90 226.92) scale(0.94 1)" font-size="5.2" fill="#3a3a3a" text-anchor="middle">Desk</text>
<circle cx="392.6" cy="187.8" r="17.8" fill="#ff9800"/>
<text transform="translate(392.60 186.68) scale(0.94 1)" font-size="5.2" fill="#3a3a3a" text-anchor="middle">Google</text>
<text transform="translate(392.60 192.12) scale(0.94 1)" font-size="5.2" fill="#3a3a3a" text-anchor="middle">799.257</text>
<circle cx="292.4" cy="173.4" r="15.5" fill="#f2b400"/>
<text transform="translate(292.40 172.28) scale(0.94 1)" font-size="5.2" fill="#3a3a3a" text-anchor="middle">ID5</text>
<text transform="translate(292.40 177.72) scale(0.94 1)" font-size="5.2" fill="#3a3a3a" text-anchor="middle">642.246</text>
<circle cx="343.3" cy="106.9" r="13.2" fill="#fcc2de"/>
<text transform="translate(343.30 105.78) scale(0.94 1)" font-size="5.2" fill="#3a3a3a" text-anchor="middle">Tapad</text>
<text transform="translate(343.30 111.22) scale(0.94 1)" font-size="5.2" fill="#3a3a3a" text-anchor="middle">500.448</text>
<circle cx="362.4" cy="90.4" r="11.3" fill="#fcc2de"/>
<text transform="translate(362.40 92.00) scale(0.94 1)" font-size="5.2" fill="#3a3a3a" text-anchor="middle">OpenX</text>
<circle cx="321.4" cy="116.7" r="9.3" fill="#ff9800"/>
<text transform="translate(321.40 118.30) scale(0.94 1)" font-size="5.2" fill="#3a3a3a" text-anchor="middle">Adobe</text>
<circle cx="392.6" cy="159.1" r="9.8" fill="#8fc4bd"/>
<text transform="translate(392.60 160.70) scale(0.94 1)" font-size="5.2" fill="#3a3a3a" text-anchor="middle">Google</text>
<circle cx="466.7" cy="138.4" r="10.5" fill="#f2b400"/>
<text transform="translate(466.70 140.00) scale(0.94 1)" font-size="5.2" fill="#3a3a3a" text-anchor="middle">AT&amp;T</text>
<circle cx="446.8" cy="201.9" r="9.0" fill="#f2b400"/>
<text transform="translate(446.80 203.50) scale(0.94 1)" font-size="5.2" fill="#3a3a3a" text-anchor="middle">WPP</text>
<circle cx="310.7" cy="201.6" r="15.8" fill="#a7fdc5"/>
<circle cx="354.1" cy="212.1" r="15.4" fill="#6390f2"/>
<circle cx="391.4" cy="85.9" r="11.7" fill="#f2b400"/>
<circle cx="474.3" cy="157.6" r="9.8" fill="#8fc4bd"/>
<circle cx="323.2" cy="100.9" r="6.3" fill="#f2b400"/>
<circle cx="331.1" cy="90.1" r="6.3" fill="#f2b400"/>
<circle cx="343.6" cy="86.3" r="6.3" fill="#f2b400"/>
<circle cx="351.5" cy="75.8" r="6.5" fill="#8fc4bd"/>
<circle cx="362.7" cy="74.6" r="4.2" fill="#8fc4bd"/>
<circle cx="342.1" cy="69.8" r="4.1" fill="#f2b400"/>
<circle cx="371.9" cy="69.3" r="5.9" fill="#f2b400"/>
<circle cx="375.7" cy="79.8" r="4.7" fill="#f2b400"/>
<circle cx="311.9" cy="94.1" r="6.0" fill="#fcc2de"/>
<circle cx="309.4" cy="106.2" r="6.0" fill="#fcc2de"/>
<circle cx="320.2" cy="88.4" r="4.1" fill="#9bd58a"/>
<circle cx="339.8" cy="77.3" r="3.2" fill="#6390f2"/>
<circle cx="335.6" cy="82.1" r="2.6" fill="#ff9800"/>
<circle cx="330.0" cy="78.6" r="3.0" fill="#f2b400"/>
<circle cx="324.7" cy="82.4" r="3.0" fill="#f2b400"/>
<circle cx="307.4" cy="116.7" r="4.1" fill="#6390f2"/>
<circle cx="297.9" cy="117.2" r="4.8" fill="#a7fdc5"/>
<circle cx="300.3" cy="109.5" r="3.0" fill="#8fc4bd"/>
<circle cx="307.9" cy="129.3" r="8.3" fill="#fcc2de"/>
<circle cx="294.5" cy="126.2" r="4.7" fill="#8fc4bd"/>
<circle cx="358.2" cy="69.3" r="2.6" fill="#f2b400"/>
<circle cx="353.6" cy="66.3" r="2.3" fill="#fcc2de"/>
<circle cx="363.1" cy="66.7" r="2.6" fill="#9bd58a"/>
<circle cx="348.8" cy="67.0" r="2.1" fill="#f2b400"/>
<circle cx="377.4" cy="92.8" r="3.3" fill="#ff9800"/>
<circle cx="379.4" cy="65.5" r="2.5" fill="#8fc4bd"/>
<circle cx="411.4" cy="90.4" r="8.3" fill="#8fc4bd"/>
<circle cx="423.7" cy="94.4" r="4.1" fill="#8fc4bd"/>
<circle cx="436.2" cy="96.1" r="8.3" fill="#8fe4d1"/>
<circle cx="445.6" cy="110.3" r="8.3" fill="#8fc4bd"/>
<circle cx="458.8" cy="121.0" r="7.8" fill="#8fc4bd"/>
<circle cx="421.6" cy="80.3" r="5.7" fill="#f2b400"/>
<circle cx="433.7" cy="81.8" r="5.6" fill="#f2b400"/>
<circle cx="411.4" cy="77.6" r="4.5" fill="#f2b400"/>
<circle cx="402.7" cy="71.6" r="5.6" fill="#8fc4bd"/>
<circle cx="389.6" cy="68.6" r="4.8" fill="#6390f2"/>
<circle cx="381.6" cy="73.1" r="3.8" fill="#f2b400"/>
<circle cx="385.4" cy="61.8" r="2.7" fill="#8fc4bd"/>
<circle cx="411.7" cy="70.1" r="2.7" fill="#8fc4bd"/>
<circle cx="417.0" cy="72.3" r="2.6" fill="#ff9800"/>
<circle cx="422.7" cy="71.3" r="2.6" fill="#f2b400"/>
<circle cx="427.7" cy="73.8" r="2.0" fill="#f2b400"/>
<circle cx="432.5" cy="73.8" r="2.0" fill="#f2b400"/>
<circle cx="396.8" cy="65.8" r="2.3" fill="#f2b400"/>
<circle cx="401.2" cy="64.0" r="2.0" fill="#f2b400"/>
<circle cx="405.7" cy="64.3" r="1.8" fill="#9bd58a"/>
<circle cx="409.9" cy="65.2" r="2.0" fill="#f2b400"/>
<circle cx="397.4" cy="99.9" r="3.0" fill="#a7fdc5"/>
<circle cx="444.2" cy="86.2" r="4.1" fill="#9bd58a"/>
<circle cx="452.1" cy="88.4" r="3.8" fill="#ff9800"/>
<circle cx="449.8" cy="97.6" r="4.8" fill="#f2b400"/>
<circle cx="456.6" cy="104.2" r="3.8" fill="#f2b400"/>
<circle cx="460.8" cy="110.0" r="2.3" fill="#ff9800"/>
<circle cx="465.2" cy="112.2" r="2.0" fill="#ff9800"/>
<circle cx="469.4" cy="115.7" r="3.3" fill="#9bd58a"/>
<circle cx="470.6" cy="122.3" r="3.1" fill="#ff9800"/>
<circle cx="475.2" cy="126.8" r="2.8" fill="#f2b400"/>
<circle cx="440.6" cy="127.5" r="5.5" fill="#ff9800"/>
<circle cx="295.7" cy="137.3" r="5.4" fill="#8fc4bd"/>
<circle cx="293.4" cy="147.6" r="4.5" fill="#8fc4bd"/>
<circle cx="286.3" cy="153.6" r="4.5" fill="#8fc4bd"/>
<circle cx="303.2" cy="144.8" r="4.8" fill="#a7fdc5"/>
<circle cx="301.7" cy="154.9" r="4.5" fill="#f2b400"/>
<circle cx="308.9" cy="140.3" r="2.0" fill="#8fc4bd"/>
<circle cx="309.4" cy="182.0" r="3.5" fill="#8fc4bd"/>
<circle cx="386.9" cy="141.5" r="7.8" fill="#6390f2"/>
<circle cx="402.1" cy="143.6" r="7.2" fill="#a78ff8"/>
<circle cx="448.3" cy="133.1" r="3.3" fill="#6390f2"/>
<circle cx="453.3" cy="136.6" r="2.3" fill="#9bd58a"/>
<circle cx="478.7" cy="132.0" r="2.3" fill="#f2b400"/>
<circle cx="479.2" cy="137.3" r="1.8" fill="#a7fdc5"/>
<circle cx="479.2" cy="141.1" r="1.8" fill="#ff9800"/>
<circle cx="479.9" cy="145.6" r="2.6" fill="#a7fdc5"/>
<circle cx="468.3" cy="177.2" r="6.3" fill="#ff9800"/>
<circle cx="476.1" cy="171.2" r="3.3" fill="#f2b400"/>
<circle cx="477.6" cy="176.9" r="2.3" fill="#f2b400"/>
<circle cx="476.6" cy="181.7" r="2.3" fill="#fcc2de"/>
<circle cx="476.9" cy="187.0" r="2.3" fill="#a7fdc5"/>
<circle cx="470.1" cy="188.4" r="4.5" fill="#f2b400"/>
<circle cx="459.1" cy="191.2" r="6.4" fill="#a78ff8"/>
<circle cx="460.8" cy="182.2" r="2.0" fill="#6390f2"/>
<circle cx="466.4" cy="167.0" r="1.8" fill="#a7fdc5"/>
<circle cx="333.5" cy="202.6" r="6.5" fill="#9bd58a"/>
<circle cx="324.7" cy="219.3" r="6.3" fill="#8fe4d1"/>
<circle cx="335.3" cy="218.4" r="3.8" fill="#8fc4bd"/>
<circle cx="336.3" cy="212.4" r="1.8" fill="#ff9800"/>
<circle cx="339.0" cy="230.5" r="7.5" fill="#ff9800"/>
<circle cx="353.0" cy="233.9" r="6.0" fill="#ff9800"/>
<circle cx="364.3" cy="230.5" r="5.0" fill="#f2b400"/>
<circle cx="325.2" cy="232.0" r="5.3" fill="#f2b400"/>
<circle cx="361.6" cy="243.0" r="5.7" fill="#ff9800"/>
<circle cx="350.8" cy="244.8" r="4.2" fill="#f2b400"/>
<circle cx="341.8" cy="243.0" r="4.2" fill="#f2b400"/>
<circle cx="333.8" cy="241.0" r="3.3" fill="#f2b400"/>
<circle cx="326.5" cy="241.0" r="3.3" fill="#f2b400"/>
<circle cx="316.8" cy="227.9" r="3.3" fill="#8fe4d1"/>
<circle cx="314.2" cy="221.1" r="3.5" fill="#9bd58a"/>
<circle cx="306.7" cy="221.1" r="3.5" fill="#f2b400"/>
<circle cx="299.6" cy="218.1" r="3.5" fill="#f2b400"/>
<circle cx="294.3" cy="212.6" r="3.3" fill="#f2b400"/>
<circle cx="291.3" cy="205.8" r="3.3" fill="#f2b400"/>
<circle cx="285.6" cy="201.1" r="3.3" fill="#f2b400"/>
<circle cx="290.9" cy="193.8" r="4.6" fill="#f2b400"/>
<circle cx="375.9" cy="202.3" r="4.1" fill="#f2b400"/>
<circle cx="374.8" cy="245.2" r="7.2" fill="#8fc4bd"/>
<circle cx="355.2" cy="250.9" r="2.3" fill="#f2b400"/>
<circle cx="360.6" cy="252.3" r="2.3" fill="#f2b400"/>
<circle cx="366.1" cy="250.9" r="2.3" fill="#f2b400"/>
<circle cx="369.2" cy="255.0" r="1.8" fill="#ff9800"/>
<circle cx="374.4" cy="255.8" r="2.4" fill="#9bd58a"/>
<circle cx="460.8" cy="207.3" r="5.3" fill="#8fc4bd"/>
<circle cx="468.3" cy="196.7" r="3.8" fill="#f2b400"/>
<circle cx="469.7" cy="204.6" r="3.8" fill="#fcc2de"/>
<circle cx="441.2" cy="213.9" r="3.5" fill="#6390f2"/>
<circle cx="440.8" cy="223.7" r="6.3" fill="#ff9800"/>
<circle cx="452.1" cy="215.9" r="5.3" fill="#f2b400"/>
<circle cx="452.5" cy="226.7" r="5.3" fill="#f2b400"/>
<circle cx="430.2" cy="232.9" r="6.5" fill="#f2b400"/>
<circle cx="441.2" cy="234.7" r="4.1" fill="#a7fdc5"/>
<circle cx="447.5" cy="233.2" r="2.3" fill="#f2b400"/>
<circle cx="409.4" cy="233.9" r="7.8" fill="#8fc4bd"/>
<circle cx="421.2" cy="242.7" r="6.3" fill="#8fc4bd"/>
<circle cx="410.2" cy="247.5" r="5.3" fill="#f2b400"/>
<circle cx="398.6" cy="243.0" r="6.0" fill="#fcc2de"/>
<circle cx="387.8" cy="244.9" r="4.5" fill="#ff9800"/>
<circle cx="393.6" cy="251.2" r="3.5" fill="#8fe4d1"/>
<circle cx="401.6" cy="253.5" r="5.3" fill="#f2b400"/>
<circle cx="429.2" cy="246.3" r="2.3" fill="#a78ff8"/>
<circle cx="432.2" cy="241.9" r="2.3" fill="#f2b400"/>
<circle cx="436.7" cy="239.5" r="2.3" fill="#f2b400"/>
<circle cx="460.3" cy="215.1" r="2.6" fill="#a7fdc5"/>
<circle cx="458.5" cy="219.9" r="1.8" fill="#f2b400"/>
<circle cx="459.6" cy="223.8" r="2.0" fill="#a7fdc5"/>
<circle cx="458.4" cy="200.1" r="1.5" fill="#ff9800"/>
<circle cx="381.7" cy="254.6" r="3.0" fill="#8fc4bd"/>
<circle cx="387.3" cy="252.8" r="2.3" fill="#f2b400"/>
<circle cx="304.0" cy="96.4" r="1.8" fill="#f2b400"/>
<circle cx="303.4" cy="100.2" r="1.5" fill="#f2b400"/>
<circle cx="301.4" cy="104.2" r="1.5" fill="#f2b400"/>
<circle cx="334.8" cy="76.1" r="1.5" fill="#f2b400"/>
<circle cx="337.5" cy="73.1" r="1.2" fill="#f2b400"/>
<circle cx="366.1" cy="63.3" r="1.5" fill="#f2b400"/>
<circle cx="369.6" cy="61.3" r="1.5" fill="#f2b400"/>
<circle cx="373.7" cy="61.3" r="1.5" fill="#9bd58a"/>
<circle cx="377.4" cy="61.3" r="1.2" fill="#f2b400"/>
<circle cx="390.3" cy="61.8" r="1.5" fill="#f2b400"/>
<circle cx="394.1" cy="61.8" r="1.5" fill="#f2b400"/>
<circle cx="377.5" cy="61.8" r="1.5" fill="#f2b400"/>
<circle cx="373.8" cy="61.5" r="1.5" fill="#a7fdc5"/>
<circle cx="287.4" cy="129.0" r="2.0" fill="#f2b400"/>
<circle cx="288.9" cy="133.3" r="2.0" fill="#f2b400"/>
<circle cx="287.9" cy="137.8" r="2.0" fill="#f2b400"/>
<circle cx="284.5" cy="142.9" r="2.0" fill="#f2b400"/>
<circle cx="288.9" cy="142.6" r="1.8" fill="#f2b400"/>
<circle cx="286.8" cy="146.8" r="2.0" fill="#f2b400"/>
<circle cx="278.4" cy="162.5" r="1.5" fill="#ff9800"/>
<circle cx="276.6" cy="165.2" r="1.5" fill="#6390f2"/>
<circle cx="275.1" cy="168.5" r="1.5" fill="#9bd58a"/>
<circle cx="274.6" cy="172.0" r="1.5" fill="#8fc4bd"/>
<circle cx="274.6" cy="175.7" r="1.5" fill="#ff9800"/>
<circle cx="275.5" cy="179.0" r="1.5" fill="#f2b400"/>
<circle cx="277.0" cy="182.5" r="1.5" fill="#f2b400"/>
<circle cx="279.3" cy="185.5" r="1.5" fill="#8fc4bd"/>
<circle cx="282.3" cy="187.8" r="1.5" fill="#f2b400"/>
<circle cx="285.6" cy="189.6" r="1.5" fill="#f2b400"/>
<circle cx="281.1" cy="156.4" r="1.2" fill="#8fc4bd"/>
<circle cx="282.3" cy="159.1" r="1.0" fill="#8fc4bd"/>
<circle cx="308.9" cy="177.2" r="1.0" fill="#ff9800"/>
<circle cx="305.5" cy="184.0" r="0.9" fill="#6390f2"/>
<circle cx="483.7" cy="149.4" r="1.2" fill="#ff9800"/>
<circle cx="484.9" cy="152.4" r="1.2" fill="#ff9800"/>
<circle cx="485.9" cy="155.4" r="1.2" fill="#ff9800"/>
<circle cx="485.9" cy="158.4" r="1.2" fill="#ff9800"/>
<circle cx="485.2" cy="161.4" r="1.2" fill="#ff9800"/>
<circle cx="484.0" cy="164.1" r="1.2" fill="#ff9800"/>
<circle cx="482.2" cy="166.4" r="1.2" fill="#ff9800"/>
<circle cx="480.4" cy="168.2" r="1.2" fill="#ff9800"/>
<circle cx="481.0" cy="170.9" r="1.0" fill="#8fc4bd"/>
<circle cx="282.6" cy="187.7" r="1.5" fill="#f2b400"/>
<circle cx="285.6" cy="189.5" r="1.2" fill="#f2b400"/>
<circle cx="350.0" cy="250.8" r="1.2" fill="#f2b400"/>
<circle cx="346.6" cy="249.7" r="1.0" fill="#f2b400"/>
<circle cx="432.9" cy="224.9" r="1.0" fill="#6390f2"/>
<circle cx="467.1" cy="209.8" r="1.2" fill="#ff9800"/>
<circle cx="465.6" cy="212.4" r="1.2" fill="#9bd58a"/>
<circle cx="464.5" cy="215.6" r="1.2" fill="#ff9800"/>
<circle cx="395.3" cy="72.3" r="1.2" fill="#a7fdc5"/>
<circle cx="403.4" cy="78.6" r="0.9" fill="#ff9800"/>
<circle cx="322.5" cy="237.9" r="1.0" fill="#ff9800"/>
<circle cx="462.3" cy="104.9" r="1.3" fill="#ff9800"/>
<circle cx="473.8" cy="194.4" r="1.9" fill="#f2b400"/>
<circle cx="410.0" cy="255.1" r="0.6" fill="#8fc4bd"/>
<circle cx="468.2" cy="212.3" r="0.9" fill="#a7fdc5"/>
<circle cx="442.1" cy="240.3" r="1.0" fill="#a7fdc5"/>
<circle cx="457.9" cy="95.7" r="0.6" fill="#f2b400"/>
<circle cx="366.3" cy="254.6" r="0.9" fill="#f2b400"/>
<circle cx="386.9" cy="257.7" r="0.8" fill="#8fc4bd"/>
<circle cx="445.3" cy="238.0" r="0.9" fill="#a7fdc5"/>
<circle cx="283.4" cy="197.3" r="0.8" fill="#f2b400"/>
<circle cx="442.7" cy="80.3" r="1.3" fill="#8fc4bd"/>
<circle cx="284.6" cy="194.7" r="1.5" fill="#6390f2"/>
<circle cx="461.6" cy="221.3" r="1.0" fill="#ff9800"/>
<circle cx="302.8" cy="112.9" r="1.0" fill="#f2b400"/>
<circle cx="392.0" cy="255.9" r="1.2" fill="#f2b400"/>
<circle cx="282.1" cy="195.0" r="0.7" fill="#8fc4bd"/>
<circle cx="437.9" cy="76.3" r="1.0" fill="#f2b400"/>
<circle cx="474.1" cy="197.6" r="1.1" fill="#ff9800"/>
<circle cx="389.3" cy="256.4" r="1.2" fill="#a7fdc5"/>
<circle cx="416.6" cy="251.6" r="1.7" fill="#f2b400"/>
<circle cx="433.3" cy="246.1" r="1.4" fill="#f2b400"/>
<circle cx="476.4" cy="190.7" r="0.9" fill="#ff9800"/>
<circle cx="417.3" cy="248.9" r="0.8" fill="#f2b400"/>
<circle cx="380.2" cy="62.0" r="0.9" fill="#6390f2"/>
<circle cx="429.7" cy="76.6" r="0.8" fill="#f2b400"/>
<circle cx="414.1" cy="252.6" r="0.8" fill="#fcc2de"/>
<circle cx="364.1" cy="254.8" r="1.1" fill="#f2b400"/>
<circle cx="419.6" cy="68.3" r="1.3" fill="#f2b400"/>
<circle cx="462.7" cy="218.6" r="1.4" fill="#f2b400"/>
<circle cx="434.6" cy="244.0" r="0.7" fill="#f2b400"/>
<circle cx="456.0" cy="221.6" r="0.6" fill="#ff9800"/>
<circle cx="393.1" cy="257.8" r="0.6" fill="#9bd58a"/>
<circle cx="425.5" cy="248.4" r="0.6" fill="#f2b400"/>
<circle cx="423.7" cy="250.5" r="0.9" fill="#ff9800"/>
<circle cx="294.9" cy="218.3" r="0.7" fill="#8fc4bd"/>
<circle cx="469.2" cy="209.3" r="0.6" fill="#f2b400"/>
<circle cx="345.7" cy="66.1" r="0.8" fill="#f2b400"/>
<circle cx="283.1" cy="192.2" r="1.1" fill="#f2b400"/>
<circle cx="481.2" cy="149.2" r="0.8" fill="#f2b400"/>
<circle cx="398.0" cy="62.0" r="0.9" fill="#f2b400"/>
<circle cx="336.1" cy="245.2" r="1.3" fill="#f2b400"/>
<circle cx="456.7" cy="98.6" r="1.6" fill="#f2b400"/>
<circle cx="338.6" cy="247.1" r="0.7" fill="#f2b400"/>
<circle cx="394.8" cy="256.4" r="1.3" fill="#ff9800"/>
<circle cx="287.6" cy="208.2" r="0.9" fill="#f2b400"/>
<circle cx="463.9" cy="108.6" r="0.8" fill="#ff9800"/>
<circle cx="427.5" cy="249.9" r="0.7" fill="#f2b400"/>
<circle cx="285.8" cy="131.4" r="0.6" fill="#f2b400"/>
<circle cx="318.6" cy="232.1" r="1.0" fill="#f2b400"/>
<circle cx="414.0" cy="65.9" r="1.3" fill="#f2b400"/>
<circle cx="456.0" cy="91.6" r="1.0" fill="#ff9800"/>
<circle cx="417.3" cy="67.3" r="0.9" fill="#a7fdc5"/>
<circle cx="306.1" cy="98.8" r="1.1" fill="#ff9800"/>
<circle cx="291.6" cy="132.2" r="0.7" fill="#f2b400"/>
<circle cx="453.6" cy="93.0" r="0.8" fill="#f2b400"/>
<circle cx="455.4" cy="95.7" r="0.9" fill="#ff9800"/>
<circle cx="312.6" cy="226.9" r="0.7" fill="#f2b400"/>
<circle cx="281.4" cy="161.1" r="0.7" fill="#a7fdc5"/>
<circle cx="480.6" cy="175.0" r="0.9" fill="#a7fdc5"/>
<circle cx="356.7" cy="65.4" r="0.7" fill="#f2b400"/>
<circle cx="303.8" cy="216.8" r="0.6" fill="#ff9800"/>
<circle cx="286.1" cy="134.8" r="0.9" fill="#f2b400"/>
<circle cx="473.0" cy="200.1" r="1.4" fill="#f2b400"/>
<circle cx="355.5" cy="247.4" r="0.9" fill="#ff9800"/>
<circle cx="319.8" cy="236.1" r="1.2" fill="#f2b400"/>
<circle cx="440.4" cy="82.0" r="0.9" fill="#f2b400"/>
<circle cx="418.8" cy="250.2" r="0.7" fill="#ff9800"/>
<circle cx="360.6" cy="63.5" r="1.2" fill="#f2b400"/>
<circle cx="452.2" cy="233.8" r="0.6" fill="#ff9800"/>
<circle cx="307.9" cy="225.4" r="0.7" fill="#f2b400"/>
<circle cx="362.5" cy="62.1" r="0.8" fill="#ff9800"/>
<circle cx="284.3" cy="158.8" r="0.8" fill="#f2b400"/>
<circle cx="412.5" cy="253.4" r="0.8" fill="#f2b400"/>
<circle cx="330.4" cy="236.7" r="1.5" fill="#f2b400"/>
<circle cx="470.9" cy="126.9" r="1.3" fill="#f2b400"/>
<circle cx="286.6" cy="206.2" r="1.2" fill="#f2b400"/>
<circle cx="456.7" cy="94.1" r="0.9" fill="#8fe4d1"/>
<circle cx="329.0" cy="82.8" r="1.0" fill="#f2b400"/>
<circle cx="436.0" cy="74.8" r="1.1" fill="#f2b400"/>
<circle cx="303.0" cy="224.1" r="0.6" fill="#ff9800"/>
<circle cx="371.8" cy="252.7" r="0.6" fill="#f2b400"/>
<circle cx="439.9" cy="241.0" r="1.0" fill="#9bd58a"/>
<circle cx="396.8" cy="257.5" r="0.7" fill="#f2b400"/>
<circle cx="367.2" cy="61.0" r="0.6" fill="#ff9800"/>
<circle cx="458.7" cy="226.7" r="0.7" fill="#f2b400"/>
<circle cx="439.5" cy="78.9" r="0.7" fill="#f2b400"/>
<circle cx="463.5" cy="220.8" r="0.7" fill="#f2b400"/>
<circle cx="290.0" cy="211.7" r="0.8" fill="#a7fdc5"/>
<circle cx="446.5" cy="236.7" r="0.7" fill="#ff9800"/>
<circle cx="315.2" cy="88.1" r="0.6" fill="#a7fdc5"/>
<circle cx="479.6" cy="183.5" r="0.6" fill="#f2b400"/>
<circle cx="279.2" cy="160.2" r="0.7" fill="#a78ff8"/>
<circle cx="356.8" cy="254.0" r="0.7" fill="#f2b400"/>
<circle cx="369.8" cy="251.9" r="0.9" fill="#8fc4bd"/>
<circle cx="465.2" cy="217.8" r="0.6" fill="#f2b400"/>
<circle cx="415.8" cy="68.7" r="0.9" fill="#9bd58a"/>
<circle cx="436.6" cy="243.3" r="1.2" fill="#f2b400"/>
<circle cx="482.9" cy="147.4" r="0.6" fill="#f2b400"/>
<circle cx="450.9" cy="233.0" r="0.7" fill="#ff9800"/>
<circle cx="343.3" cy="248.3" r="1.1" fill="#f2b400"/>
<circle cx="312.0" cy="225.2" r="0.8" fill="#ff9800"/>
<circle cx="479.5" cy="180.2" r="0.7" fill="#8fe4d1"/>
<circle cx="277.6" cy="160.2" r="0.6" fill="#ff9800"/>
<circle cx="289.9" cy="200.4" r="0.8" fill="#f2b400"/>
<circle cx="377.7" cy="255.7" r="0.7" fill="#a7fdc5"/>
<circle cx="292.9" cy="120.0" r="0.7" fill="#f2b400"/>
<circle cx="357.4" cy="63.2" r="1.0" fill="#f2b400"/>
<circle cx="425.5" cy="250.2" r="0.7" fill="#f2b400"/>
<circle cx="409.3" cy="253.7" r="0.6" fill="#f2b400"/>
<circle cx="463.5" cy="106.8" r="0.8" fill="#ff9800"/>
<circle cx="427.1" cy="70.3" r="0.8" fill="#f2b400"/>
<circle cx="421.4" cy="249.9" r="0.6" fill="#ff9800"/>
<circle cx="355.7" cy="63.8" r="0.6" fill="#ff9800"/>
<circle cx="351.4" cy="64.0" r="0.6" fill="#f2b400"/>
<circle cx="357.5" cy="248.2" r="0.7" fill="#ff9800"/>
<circle cx="278.9" cy="157.3" r="0.9" fill="#ff9800"/>
<circle cx="477.7" cy="135.1" r="0.6" fill="#f2b400"/>
<circle cx="315.1" cy="232.0" r="0.9" fill="#f2b400"/>
<circle cx="450.0" cy="83.8" r="0.7" fill="#6390f2"/>
<circle cx="408.6" cy="67.8" r="0.7" fill="#f2b400"/>
<circle cx="301.6" cy="222.9" r="0.8" fill="#f2b400"/>
<circle cx="358.8" cy="65.7" r="0.8" fill="#a7fdc5"/>
<circle cx="319.2" cy="83.3" r="0.7" fill="#8fc4bd"/>
<circle cx="285.3" cy="136.6" r="0.6" fill="#f2b400"/>
<circle cx="317.2" cy="233.7" r="0.8" fill="#f2b400"/>
<circle cx="461.4" cy="102.3" r="0.7" fill="#f2b400"/>
<circle cx="320.8" cy="81.8" r="0.7" fill="#ff9800"/>
<circle cx="333.6" cy="245.3" r="0.6" fill="#f2b400"/>
<circle cx="288.8" cy="209.8" r="0.8" fill="#ff9800"/>
<circle cx="450.7" cy="235.0" r="0.6" fill="#f2b400"/>
<circle cx="478.7" cy="128.6" r="0.8" fill="#f2b400"/>
</svg></body></html>
